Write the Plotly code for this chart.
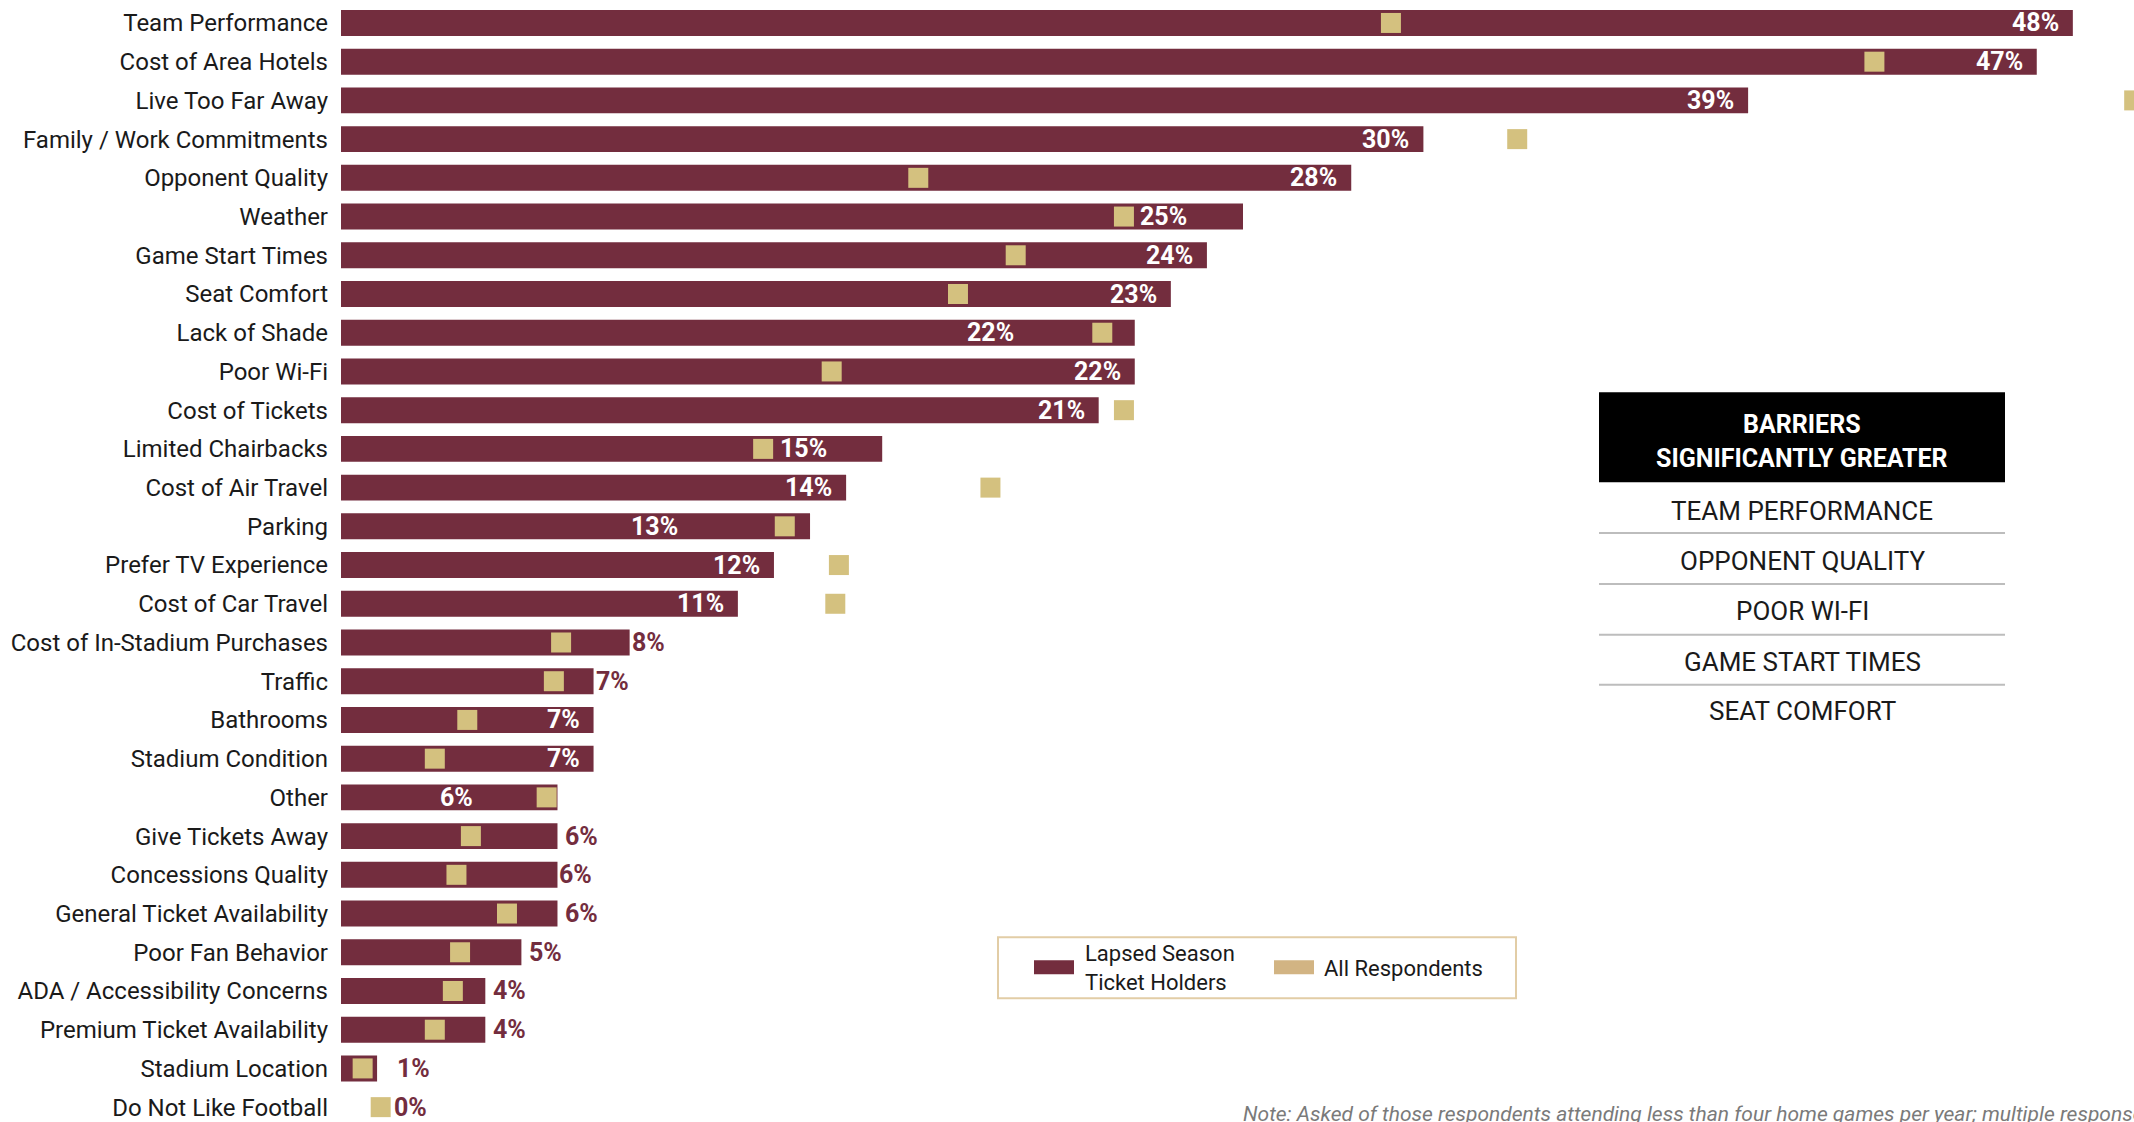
import plotly.graph_objects as go

# Survey barriers: lapsed season ticket holders vs. all respondents (%)
categories = [
    "Team Performance", "Cost of Area Hotels", "Live Too Far Away",
    "Family / Work Commitments", "Opponent Quality", "Weather",
    "Game Start Times", "Seat Comfort", "Lack of Shade", "Poor Wi-Fi",
    "Cost of Tickets", "Limited Chairbacks", "Cost of Air Travel", "Parking",
    "Prefer TV Experience", "Cost of Car Travel",
    "Cost of In-Stadium Purchases", "Traffic", "Bathrooms",
    "Stadium Condition", "Other", "Give Tickets Away", "Concessions Quality",
    "General Ticket Availability", "Poor Fan Behavior",
    "ADA / Accessibility Concerns", "Premium Ticket Availability",
    "Stadium Location", "Do Not Like Football",
]
lapsed = [48, 47, 39, 30, 28, 25, 24, 23, 22, 22, 21, 15, 14, 13, 12, 11,
          8, 7, 7, 7, 6, 6, 6, 6, 5, 4, 4, 1, 0]
all_respondents = [29.1, 42.5, 49.7, 32.6, 16.0, 21.7, 18.7, 17.1, 21.1, 13.6,
                   21.7, 11.7, 18.0, 12.3, 13.8, 13.7, 6.1, 5.9, 3.5, 2.6,
                   5.7, 3.6, 3.2, 4.6, 3.3, 3.1, 2.6, 0.6, 1.1]

table_header = ["BARRIERS", "SIGNIFICANTLY GREATER"]
table_rows = ["TEAM PERFORMANCE", "OPPONENT QUALITY", "POOR WI-FI",
              "GAME START TIMES", "SEAT COMFORT"]
note_text = ("Note: Asked of those respondents attending less than four home "
             "games per year; multiple responses allowed.")

# Value-label placement per row: "in" = inside bar end, "out*" = after bar end,
# ("l", x) / ("r", x) = left / right aligned at x (percent units)
label_place = ["in", "in", "in", "in", "in", ("l", 22.1), "in", "in",
               ("r", 18.7), "in", "in", ("l", 12.1), "in", ("r", 9.4), "in",
               "in", "out0", "out0", "in", "in", ("r", 3.7), "out", "out0",
               "out", "out", "out", "out", "outw", ("l", 1.4)]

MAROON = "#732D3E"
GOLD = "#D4C17F"
GOLD_LEG = "#D2B483"
INK = "#1a1a1a"
FONT = "Roboto, 'Liberation Sans', sans-serif"

W, H = 2134, 1122
X0 = 341  # left edge of plotting area (px)
PX_PER_PCT = 36.08
xmax = (W - X0) / PX_PER_PCT
row_top_px, pitch = 23, 38.79
y_top = -row_top_px / pitch
y_bot = (H - row_top_px) / pitch


def px(x):
    """Horizontal pixel position -> paper fraction of the plotting area."""
    return (x - X0) / (W - X0)


def py(y):
    """Vertical pixel position (from top) -> paper fraction."""
    return 1 - y / H


fig = go.Figure()
fig.add_trace(go.Bar(
    y=categories, x=lapsed, orientation="h", marker_color=MAROON,
    marker_line_width=0, width=0.67, name="Lapsed Season Ticket Holders",
    showlegend=False,
))
fig.add_trace(go.Scatter(
    y=categories, x=all_respondents, mode="markers",
    marker=dict(symbol="square", size=20, color=GOLD, line_width=0),
    name="All Respondents", showlegend=False, cliponaxis=True,
))

label_font = dict(family=FONT, size=25)
for cat, val, place in zip(categories, lapsed, label_place):
    txt = f"<b>{val}%</b>"
    if place == "in":
        fig.add_annotation(x=val, y=cat, text=txt, showarrow=False,
                           xanchor="right", xshift=-12,
                           font=dict(label_font, color="white"))
    elif isinstance(place, str):
        shift = {"out": 6, "out0": 0, "outw": 18}[place]
        fig.add_annotation(x=val, y=cat, text=txt, showarrow=False,
                           xanchor="left", xshift=shift,
                           font=dict(label_font, color=MAROON))
    else:
        side, xpos = place
        color = "white" if xpos < val else MAROON
        fig.add_annotation(x=xpos, y=cat, text=txt, showarrow=False,
                           xanchor="left" if side == "l" else "right",
                           font=dict(label_font, color=color))

# Side table: header block and rows
tx0, tx1 = px(1599), px(2005)
tmid = (tx0 + tx1) / 2
fig.add_shape(type="rect", xref="paper", yref="paper",
              x0=tx0, x1=tx1, y0=py(483), y1=py(393),
              fillcolor="black", line_width=0, layer="above")
for i, t in enumerate(table_header):
    fig.add_annotation(xref="paper", yref="paper", x=tmid,
                       y=py(425 + 34 * i), text=f"<b>{t}</b>",
                       showarrow=False, xanchor="center", yanchor="middle",
                       font=dict(family=FONT, size=25, color="white"))
row_y = [512, 562, 612, 663, 712]
for ry, t in zip(row_y, table_rows):
    fig.add_annotation(xref="paper", yref="paper", x=tmid, y=py(ry), text=t,
                       showarrow=False, xanchor="center", yanchor="middle",
                       font=dict(family=FONT, size=26, color=INK))
for ly in [534, 585, 636, 686]:
    fig.add_shape(type="line", xref="paper", yref="paper",
                  x0=tx0, x1=tx1, y0=py(ly), y1=py(ly),
                  line=dict(color="#BDBDBD", width=2), layer="above")

# Legend box
fig.add_shape(type="rect", xref="paper", yref="paper",
              x0=px(998), x1=px(1516), y0=py(1000), y1=py(939),
              fillcolor="white", line=dict(color="#E2CDA6", width=2),
              layer="above")
fig.add_shape(type="rect", xref="paper", yref="paper",
              x0=px(1034), x1=px(1074), y0=py(976), y1=py(962),
              fillcolor=MAROON, line_width=0, layer="above")
fig.add_shape(type="rect", xref="paper", yref="paper",
              x0=px(1274), x1=px(1314), y0=py(976), y1=py(962),
              fillcolor=GOLD_LEG, line_width=0, layer="above")
fig.add_annotation(xref="paper", yref="paper", x=px(1083), y=py(970),
                   text="Lapsed Season<br>Ticket Holders", showarrow=False,
                   xanchor="left", yanchor="middle", align="left",
                   font=dict(family=FONT, size=22, color=INK))
fig.add_annotation(xref="paper", yref="paper", x=px(1322), y=py(970),
                   text="All Respondents", showarrow=False,
                   xanchor="left", yanchor="middle",
                   font=dict(family=FONT, size=22, color=INK))

# Footnote along the lower edge
fig.add_annotation(xref="paper", yref="paper", x=px(1241), y=py(1102),
                   text=f"<i>{note_text}</i>", showarrow=False,
                   xanchor="left", yanchor="top",
                   font=dict(family=FONT, size=21, color="#7a7a7a"))

fig.update_layout(
    width=W, height=H,
    margin=dict(l=X0, r=0, t=0, b=0),
    paper_bgcolor="white", plot_bgcolor="white",
    xaxis=dict(range=[0, xmax], visible=False, fixedrange=True),
    yaxis=dict(range=[y_bot, y_top], showgrid=False, zeroline=False,
               ticks="", showline=False, ticklabelstandoff=12,
               tickfont=dict(family=FONT, size=24, color=INK)),
    bargap=0.33,
)

fig.write_html("out.html")
